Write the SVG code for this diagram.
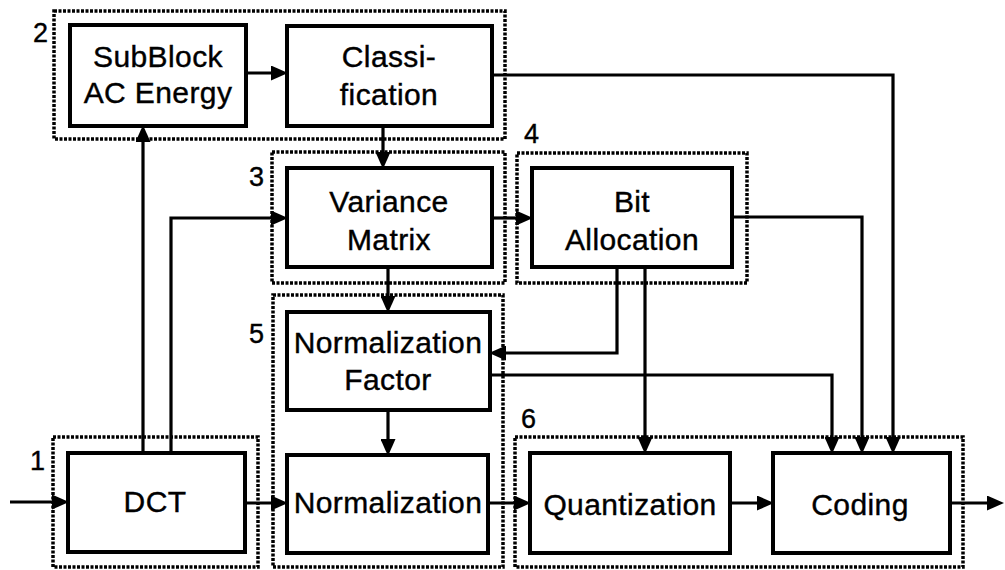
<svg xmlns="http://www.w3.org/2000/svg" width="1005" height="570" viewBox="0 0 1005 570">
<style>
.box{fill:#fff;stroke:#000;stroke-width:4}
.grp{fill:none;stroke:#000;stroke-width:3.5;stroke-dasharray:3 1.5}
.lbl{font-family:"Liberation Sans",Arial,sans-serif;font-size:30px;fill:#000;stroke:#000;stroke-width:0.4;text-anchor:middle;letter-spacing:0.4px}
.num{font-family:"Liberation Sans",Arial,sans-serif;font-size:27px;fill:#000;stroke:#000;stroke-width:0.4}
.c{fill:none;stroke:#000;stroke-width:3.2;marker-end:url(#ah)}
</style>
<defs>
<marker id="ah" viewBox="0 0 17 15" refX="8" refY="7.5" markerWidth="17" markerHeight="15" markerUnits="userSpaceOnUse" orient="auto">
<path d="M0,0 L17,7.5 L0,15 z" fill="#000"/>
</marker>
</defs>
<rect width="1005" height="570" fill="#fff"/>
<g id="groups">
<rect class="grp" x="53" y="437" width="205" height="130"/>
<rect class="grp" x="54" y="11" width="451" height="128"/>
<rect class="grp" x="272" y="152" width="233" height="131"/>
<rect class="grp" x="517" y="153" width="230" height="130"/>
<rect class="grp" x="273" y="295" width="230" height="272"/>
<rect class="grp" x="515" y="437" width="448" height="130"/>
<text class="num" x="33" y="42">2</text>
<text class="num" x="249" y="186">3</text>
<text class="num" x="524" y="143">4</text>
<text class="num" x="249" y="343">5</text>
<text class="num" x="30" y="470">1</text>
<text class="num" x="521" y="428">6</text>
</g>
<g id="connectors">
<path class="c" d="M10,502 H60"/>
<path class="c" d="M246,73 H279"/>
<path class="c" d="M492,75 H893 V445"/>
<path class="c" d="M143,453 V134"/>
<path class="c" d="M171,453 V218 H279"/>
<path class="c" d="M383,126 V160"/>
<path class="c" d="M492,218 H524"/>
<path class="c" d="M732,217 H862 V445"/>
<path class="c" d="M388,267 V304"/>
<path class="c" d="M617,267 V353 H498"/>
<path class="c" d="M490,375 H832 V445"/>
<path class="c" d="M645,267 V445"/>
<path class="c" d="M388,410 V447"/>
<path class="c" d="M245,503 H279"/>
<path class="c" d="M488,503 H522"/>
<path class="c" d="M730,503 H765"/>
<path class="c" d="M950,503 H995"/>
</g>
<g id="subblock">
<rect class="box" x="70" y="25" width="176" height="101"/>
<text class="lbl" x="158" y="67">SubBlock</text>
<text class="lbl" x="158" y="103">AC Energy</text>
</g>
<g id="classification">
<rect class="box" x="287" y="26" width="205" height="100"/>
<text class="lbl" x="389" y="67">Classi-</text>
<text class="lbl" x="389" y="105">fication</text>
</g>
<g id="variance">
<rect class="box" x="287" y="168" width="205" height="99"/>
<text class="lbl" x="389" y="212">Variance</text>
<text class="lbl" x="389" y="250">Matrix</text>
</g>
<g id="bitalloc">
<rect class="box" x="532" y="168" width="200" height="99"/>
<text class="lbl" x="632" y="212">Bit</text>
<text class="lbl" x="632" y="250">Allocation</text>
</g>
<g id="normfactor">
<rect class="box" x="287" y="312" width="203" height="98"/>
<text class="lbl" x="388" y="353" letter-spacing="0">Normalization</text>
<text class="lbl" x="388" y="390">Factor</text>
</g>
<g id="dct">
<rect class="box" x="68" y="453" width="177" height="99"/>
<text class="lbl" x="155" y="512">DCT</text>
</g>
<g id="normalization">
<rect class="box" x="287" y="455" width="201" height="98"/>
<text class="lbl" x="388" y="513" letter-spacing="0">Normalization</text>
</g>
<g id="quantization">
<rect class="box" x="530" y="453" width="200" height="100"/>
<text class="lbl" x="630" y="515">Quantization</text>
</g>
<g id="coding">
<rect class="box" x="773" y="453" width="177" height="100"/>
<text class="lbl" x="860" y="515">Coding</text>
</g>
</svg>
